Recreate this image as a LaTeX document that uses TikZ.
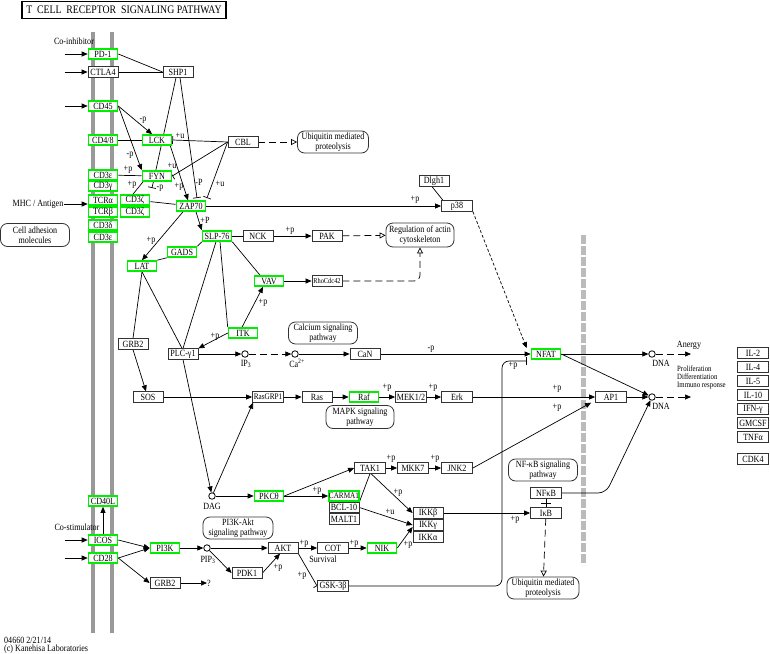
\documentclass[tikz,border=0pt]{standalone}
\usepackage{fontspec}
\setmainfont{Liberation Serif}[FakeStretch=0.85]
\usepackage{tikz}
\usetikzlibrary{arrows.meta,backgrounds}
\definecolor{KeggGreen}{HTML}{00EE00}
\definecolor{MembraneGray}{HTML}{999999}
\definecolor{NucGray}{HTML}{BBBBBB}
\newcommand\keggfont{\fontsize{9.5}{9.5}\selectfont}
\begin{document}
\begin{tikzpicture}[x=1pt,y=-1pt,
    gene/.style={draw=black!80,fill=white,line width=0.8pt,minimum width=30,
      minimum height=10.5,inner sep=0pt,font=\keggfont},
    ggene/.style={gene,draw=KeggGreen,line width=1.6pt,minimum width=29,minimum height=10},
    pmap/.style={draw=black!80,fill=white,rounded corners=7pt,align=center,
      inner sep=0pt,font=\keggfont,line width=0.8pt},
    cpd/.style={circle,draw,fill=white,minimum size=6.5,inner sep=0pt,line width=0.8pt},
    lbl/.style={font=\keggfont,inner sep=0pt},
    conn/.style={line width=0.7pt},
    act/.style={conn,-{Triangle[length=6pt,width=5pt]}},
    inh/.style={conn,-{Bar[width=8pt]}},
    dact/.style={conn,dash pattern=on 7pt off 4pt,-{Triangle[open,length=6pt,width=6pt]}},
    dind/.style={conn,dash pattern=on 7pt off 4pt,-{Triangle[length=6pt,width=5pt]}},
    fine/.style={conn,dash pattern=on 3pt off 2pt,-{Triangle[length=6pt,width=5pt]}},
    membrane/.style={line width=4pt,draw=MembraneGray},
    nucbar/.style={line width=5pt,draw=NucGray,dash pattern=on 9pt off 2pt}
  ]
  \useasboundingbox (0,0) rectangle (770,653);
  \node[draw,line width=1.5pt,minimum width=204,minimum height=17,inner sep=0pt,
    font=\fontsize{11.5}{11.5}\selectfont] (title) at (124,10)
    {T\ \ CELL\ \ RECEPTOR\ \ SIGNALING PATHWAY};

  % membrane receptors
  \node[ggene] (pd1) at (103,54) {PD-1};
  \node[gene] (ctla4) at (103,72) {CTLA4};
  \node[ggene] (cd45) at (103,106) {CD45};
  \node[ggene] (cd48) at (103,140) {CD4/8};
  \node[ggene] (cd3e) at (103,175) {CD3ε};
  \node[ggene] (cd3g) at (103,186) {CD3γ};
  \node[ggene] (tcra) at (103,200) {TCRα};
  \node[ggene] (tcrb) at (103,212) {TCRβ};
  \node[ggene] (cd3d) at (103,225) {CD3δ};
  \node[ggene] (cd3eb) at (103,237) {CD3ε};
  \node[ggene] (cd3za) at (135,200) {CD3ζ};
  \node[ggene] (cd3zb) at (135,212) {CD3ζ};
  \node[ggene] (cd40l) at (103,501) {CD40L};
  \node[ggene] (icos) at (103,540) {ICOS};
  \node[ggene] (cd28) at (103,558) {CD28};

  % proximal signaling
  \node[ggene] (lck) at (157,140) {LCK};
  \node[ggene] (fyn) at (157,176) {FYN};
  \node[gene] (shp1) at (178,72) {SHP1};
  \node[gene] (cbl) at (243,142) {CBL};
  \node[pmap,minimum width=71,minimum height=22] (ubq1) at (333,142) {Ubiquitin mediated\\proteolysis};
  \node[ggene] (zap70) at (191,206) {ZAP70};
  \node[gene] (dlgh1) at (434,181) {Dlgh1};
  \node[gene,minimum width=31] (p38) at (457,206) {p38};
  \node[ggene] (slp76) at (217,236) {SLP-76};
  \node[gene] (nck) at (258,236) {NCK};
  \node[gene] (pak) at (327,236) {PAK};
  \node[pmap,minimum width=68,minimum height=24] (actin) at (420,235) {Regulation of actin\\cytoskeleton};
  \node[ggene] (gads) at (182,252) {GADS};
  \node[ggene] (lat) at (142,266) {LAT};
  \node[ggene] (vav) at (269,281) {VAV};
  \node[gene,font=\fontsize{7.5}{8}\selectfont] (rho) at (327,281) {RhoCdc42};
  \node[ggene] (itk) at (243,333) {ITK};
  \node[gene] (grb2a) at (133,344) {GRB2};
  \node[gene] (plc) at (183,354) {PLC-γ1};
  \node[cpd] (ip3) at (245,354) {};
  \node[cpd] (ca) at (295,354) {};
  \node[pmap,minimum width=69,minimum height=22] (calc) at (323,333) {Calcium signaling\\pathway};
  \node[gene] (can) at (365,354) {CaN};
  \node[ggene] (nfat) at (546,354) {NFAT};

  % Ras / MAPK
  \node[gene] (sos) at (148,397) {SOS};
  \node[gene,minimum width=31,font=\fontsize{8.5}{9}\selectfont] (rasgrp1) at (268,397) {RasGRP1};
  \node[gene] (ras) at (317,397) {Ras};
  \node[ggene] (raf) at (364,397) {Raf};
  \node[gene,minimum width=31] (mek) at (411,397) {MEK1/2};
  \node[gene,minimum width=31] (erk) at (457,397) {Erk};
  \node[pmap,minimum width=68,minimum height=23] (mapk) at (360,417) {MAPK signaling\\pathway};
  \node[gene,minimum width=31] (ap1) at (611,397) {AP1};
  \node[cpd] (dna1) at (652,354) {};
  \node[cpd] (dna2) at (652,397) {};

  % target genes
  \foreach \y/\g/\t in {353/il2/IL-2,367/il4/IL-4,381/il5/IL-5,395/il10/IL-10,
      409/ifng/IFN-γ,423/gmcsf/GMCSF,437/tnfa/TNFα,459/cdk4/CDK4}
    \node[gene,minimum width=31] (\g) at (753,\y) {\t};

  % PKC / PI3K branch
  \node[ggene] (pi3k) at (165,548) {PI3K};
  \node[gene] (grb2b) at (165,583) {GRB2};
  \node[cpd] (pip3) at (207,548) {};
  \node[gene] (pdk1) at (247,573) {PDK1};
  \node[gene] (akt) at (283,548) {AKT};
  \node[pmap,minimum width=70,minimum height=22] (pi3kakt) at (238,528) {PI3K-Akt\\signaling pathway};
  \node[cpd] (dag) at (212,496) {};
  \node[ggene] (pkct) at (269,496) {PKCθ};
  \node[ggene,font=\fontsize{8.5}{9}\selectfont] (carma1) at (344,496) {CARMA1};
  \node[gene] (bcl10) at (344,507.5) {BCL-10};
  \node[gene] (malt1) at (344,519) {MALT1};
  \node[gene,minimum width=31] (tak1) at (370,468) {TAK1};
  \node[gene,minimum width=31] (mkk7) at (413,468) {MKK7};
  \node[gene,minimum width=31] (jnk2) at (457,468) {JNK2};
  \node[gene] (ikkb) at (428,513) {IKKβ};
  \node[gene] (ikkg) at (428,525) {IKKγ};
  \node[gene] (ikka) at (428,537) {IKKα};
  \node[gene,minimum width=31] (cot) at (333,548) {COT};
  \node[ggene] (nik) at (382,548) {NIK};
  \node[gene,minimum width=31] (gsk) at (333,586) {GSK-3β};
  \node[pmap,minimum width=69,minimum height=22] (nfkbpath) at (543,470) {NF-κB signaling\\pathway};
  \node[gene,minimum width=31] (nfkb) at (546,493) {NFκB};
  \node[gene,minimum width=31] (ikb) at (546,513) {IκB};
  \node[pmap,minimum width=72,minimum height=22] (ubq2) at (543,588) {Ubiquitin mediated\\proteolysis};
  \node[pmap,minimum width=69,minimum height=23] (celladh) at (35,235) {Cell adhesion\\molecules};

  % plain texts
  \node[lbl] (coinh) at (74,41) {Co-inhibitor};
  \node[lbl] (mhc) at (38,204) {MHC / Antigen};
  \node[lbl] (costim) at (77,527) {Co-stimulator};
  \node[lbl] (anergy) at (689,345) {Anergy};
  \node[lbl,anchor=west,align=left,font=\fontsize{8}{8}\selectfont] (prolif) at (677,378)
    {Proliferation\\Differentiation\\Immuno response};
  \node[lbl] (dnalbl1) at (661,363) {DNA};
  \node[lbl] (dnalbl2) at (661,406) {DNA};
  \node[lbl] (ip3lbl) at (246,364) {IP\textsubscript{3}};
  \node[lbl] (calbl) at (297,363) {Ca\textsuperscript{2+}};
  \node[lbl] (pip3lbl) at (208,560) {PIP\textsubscript{3}};
  \node[lbl] (daglbl) at (212,506) {DAG};
  \node[lbl] (survival) at (323,559) {Survival};
  \node[lbl] (qmark) at (209,583) {?};
  \node[lbl,anchor=west] (stamp) at (4,640) {04660 2/21/14};
  \node[lbl,anchor=west] (copy) at (4,649) {(c) Kanehisa Laboratories};

  \foreach [count=\i] \px/\py/\t in {143/120/-p,130/155/-p,180/136/+u,128/170/+p,
      172/166/+u,132/185/+p,160/188/-p,179/187/+p,199/182/-P,220/184/+u,
      415/200/+p,205/220/+P,151/241/+p,290/231/+p,263/303/+p,215/337/+p,
      431/349/-p,513/366/+p,387/388/+p,433/388/+p,557/389/+p,557/408/+p,
      317/491/+p,391/459/+p,435/459/+p,398/493/+p,390/512/+u,408/545/+p,
      304/544/+p,354/544/+p,302/576/+p,278/568/+p,515/520/+p}
    \node[lbl] (edgelbl\i) at (\px,\py) {\t};

  \coordinate (fynbar) at (152,188);
  \coordinate (zapbarA) at (197,198);
  \coordinate (zapbarB) at (207,198);
  \coordinate (anergyend) at (691,354);
  \coordinate (prolifend) at (691,397);
  \coordinate (nfkbturn) at (606,493);
  \coordinate (gskturn) at (502,361);

  \begin{scope}[on background layer]
    \draw[membrane] (93,32) -- (93,633);
    \draw[membrane] (112,32) -- (112,633);
    \draw[nucbar] (583,235) -- (583,565);

    \foreach \n in {pd1,ctla4,cd45,icos,cd28}
      \draw[act] ([xshift=-23pt]\n.west) -- (\n.west);
    \draw[act] (mhc.east) -- (mhc.east -| tcra.west);
    \draw[conn] (pd1.east) -- (shp1.west);
    \draw[conn] (ctla4) -- (shp1);
    \draw[conn] (cd48) -- (lck);
    \draw[conn] (cd3e) -- (fyn);
    \draw[conn] (cd3za) -- (zap70);
    \draw[act] (cd45.east) -- ([xshift=-5pt]lck.north);
    \draw[act] (cd45.east) -- (fyn.north west);
    \draw[inh] ([xshift=-2pt]shp1.south) -- (fynbar);
    \draw[inh] ([xshift=2pt]shp1.south) -- (zapbarA);
    \draw[inh] (cbl.west) -- (lck.east);
    \draw[inh] (cbl.west) -- (fyn.east);
    \draw[inh] (cbl.west) -- (zapbarB);
    \draw[act] ([xshift=-2pt]lck.south east) -- ([xshift=-3pt]zap70.north);
    \draw[conn] ([xshift=-14pt]fyn.south) -- ([xshift=-2pt]cd3za.north);
    \draw[act] (zap70.east) -- (p38.west);
    \draw[conn] ([xshift=-2pt]dlgh1.south) -- ([xshift=-14pt]p38.north);
    \draw[fine] (p38.south east) -- ([xshift=-4pt]nfat.north west);
    \draw[act] ([xshift=5pt]zap70.south) -- (slp76.north west);
    \draw[act] ([xshift=-8pt]zap70.south) -- (lat.north);
    \draw[conn] (slp76) -- (nck);
    \draw[act] (nck) -- (pak);
    \draw[dact] (pak) -- (actin);
    \draw[dact] (cbl) -- (ubq1);
    \draw[conn] (gads.north east) -- (slp76.south west);
    \draw[conn] (gads.south west) -- (lat.north east);
    \draw[conn] (slp76.south east) -- ([xshift=-9pt]vav.north);
    \draw[act] (vav) -- (rho);
    \draw[dact,rounded corners=6pt] (rho.east) -| (actin.south);
    \draw[act] ([xshift=-1pt]itk.north) -- ([xshift=-6pt]vav.south);
    \draw[conn] ([xshift=3pt]slp76.south) -- (itk.north west);
    \draw[conn] ([xshift=-1pt]slp76.south) -- (plc.north);
    \draw[conn] (lat.south) -- ([xshift=-1pt]plc.north);
    \draw[conn] (lat.south) -- (grb2a.north);
    \draw[act] (grb2a.south) -- ([xshift=-2pt]sos.north);
    \draw[act] (itk.west) -- (plc.north east);
    \draw[act] (plc) -- (ip3);
    \draw[dind] (ip3) -- (ca);
    \draw[act] (ca) -- (can);
    \draw[act] (can) -- (nfat);
    \draw[act] (nfat) -- (dna1);
    \draw[act] (nfat.east) -- (dna2);
    \draw[dind] (dna1) -- (anergyend);
    \draw[dind] (dna2) -- (prolifend);
    \draw[act] (sos) -- (rasgrp1);
    \draw[act] (plc.south) -- (dag);
    \draw[act] (dag) -- ([xshift=1pt]rasgrp1.south west);
    \draw[act] (dag) -- (pkct);
    \draw[act] (rasgrp1) -- (ras);
    \draw[act] (ras) -- (raf);
    \draw[act] (raf) -- (mek);
    \draw[act] (mek) -- (erk);
    \draw[act] (erk) -- (ap1);
    \draw[act] (jnk2.east) -- ([xshift=-4pt]ap1.south west);
    \draw[act] (ap1) -- (dna2);
    \draw[act,rounded corners=8pt] (nfkb.east) -- (nfkbturn) -- (dna2);
    \draw[conn] (nfkb.south) -- coordinate (nfmid) (ikb.north);
    \draw[conn] ([xshift=-5pt]nfmid) -- ([xshift=5pt]nfmid);
    \draw[dact] (ikb) -- (ubq2);
    \draw[act] (ikkb.east) -- (ikb.west);
    \draw[inh,rounded corners=7pt] (gsk.east) -| (gskturn) -- ([xshift=-4pt,yshift=-7pt]nfat.west);
    \draw[act] (pkct) -- (carma1);
    \draw[act] (pkct.east) -- (tak1.west);
    \draw[act] (tak1) -- (mkk7);
    \draw[act] (mkk7) -- (jnk2);
    \draw[act] ([xshift=1pt]tak1.south) -- (ikkb.west);
    \draw[conn] (bcl10.north east) -- (tak1.south);
    \draw[act] (bcl10.east) -- (ikkg.west);
    \draw[act] (nik.east) -- ([yshift=-2pt]ikkg.west);
    \draw[act] (pi3k) -- (pip3);
    \draw[act] (pip3) -- (akt);
    \draw[act] (pip3) -- (pdk1.west);
    \draw[act] (pdk1.east) -- ([xshift=-3pt]akt.south);
    \draw[act] (akt) -- (cot);
    \draw[act] (cot) -- (nik);
    \draw[inh] (akt.south east) -- (gsk.west);
    \draw[act] (icos.east) -- (pi3k.west);
    \draw[act] (cd28.east) -- (pi3k.west);
    \draw[act] (cd28.east) -- (grb2b.west);
    \draw[act] (grb2b) -- (qmark);
    \draw[act] (icos) -- (cd40l);
  \end{scope}
\end{tikzpicture}
\end{document}
